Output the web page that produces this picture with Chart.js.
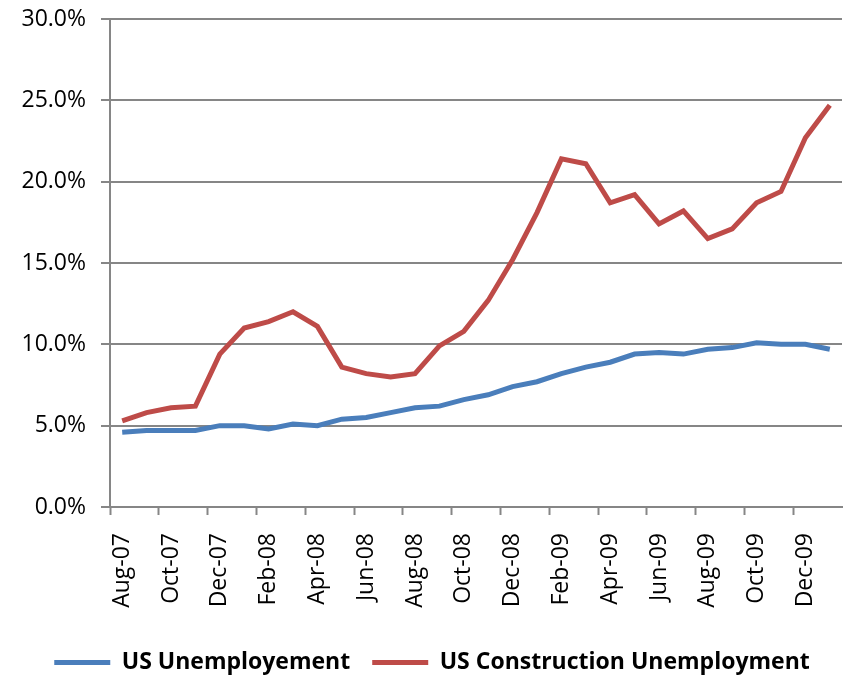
<!DOCTYPE html>
<html>
<head>
<meta charset="utf-8">
<script src="https://cdn.jsdelivr.net/npm/chart.js@4/dist/chart.umd.min.js"></script>
<style>
  html, body { margin: 0; padding: 0; background: #fff; overflow: hidden; }
  #wrap { width: 848px; height: 676px; overflow: hidden; }
</style>
</head>
<body>
<div id="wrap"><canvas id="js-chart" width="848" height="684"></canvas></div>
<script>
const months = [
  "Aug-07", "Sep-07", "Oct-07", "Nov-07", "Dec-07", "Jan-08", "Feb-08", "Mar-08",
  "Apr-08", "May-08", "Jun-08", "Jul-08", "Aug-08", "Sep-08", "Oct-08", "Nov-08",
  "Dec-08", "Jan-09", "Feb-09", "Mar-09", "Apr-09", "May-09", "Jun-09", "Jul-09",
  "Aug-09", "Sep-09", "Oct-09", "Nov-09", "Dec-09", "Jan-10"
];

const usUnemployment = [
  4.6, 4.7, 4.7, 4.7, 5.0, 5.0, 4.8, 5.1, 5.0, 5.4, 5.5, 5.8, 6.1, 6.2, 6.6,
  6.9, 7.4, 7.7, 8.2, 8.6, 8.9, 9.4, 9.5, 9.4, 9.7, 9.8, 10.1, 10.0, 10.0, 9.7
];

const constructionUnemployment = [
  5.3, 5.8, 6.1, 6.2, 9.4, 11.0, 11.4, 12.0, 11.1, 8.6, 8.2, 8.0, 8.2, 9.9, 10.8,
  12.7, 15.2, 18.1, 21.4, 21.1, 18.7, 19.2, 17.4, 18.2, 16.5, 17.1, 18.7, 19.4, 22.7, 24.7
];

const seriesNames = ["US Unemployement", "US Construction Unemployment"];

const AXIS_GRAY = "#868686";
const FONT = "'Open Sans', 'Noto Sans', sans-serif";

function drawChart() {
  const context = document.getElementById("js-chart").getContext("2d");

  const unemploymentChart = new Chart(context, {
    type: "line",
    data: {
      labels: months,
      datasets: [
        {
          label: seriesNames[0],
          data: usUnemployment,
          borderColor: "#4A7EBB",
          backgroundColor: "#4A7EBB",
          borderWidth: 5,
          pointRadius: 0,
          tension: 0,
          fill: false,
        },
        {
          label: seriesNames[1],
          data: constructionUnemployment,
          borderColor: "#BE4B48",
          backgroundColor: "#BE4B48",
          borderWidth: 5,
          pointRadius: 0,
          tension: 0,
          fill: false,
        },
      ],
    },
    options: {
      responsive: false,
      animation: false,
      // left padding only nudges the legend; y axis width below is cut to match
      layout: { padding: { top: 19, right: 6, left: 22, bottom: 0 } },
      plugins: {
        tooltip: { enabled: false },
        legend: {
          position: "bottom",
          labels: {
            color: "#000",
            font: { family: FONT, size: 23, weight: "bold" },
            boxWidth: 56,
            boxHeight: 5,
            padding: 22,
            generateLabels: function (chart) {
              return Chart.defaults.plugins.legend.labels
                .generateLabels(chart)
                .map((item) => ({ ...item, lineWidth: 0 }));
            },
          },
        },
      },
      scales: {
        x: {
          offset: true,
          border: { color: AXIS_GRAY, width: 2 },
          grid: {
            offset: true,
            drawOnChartArea: false,
            tickLength: 8,
            tickWidth: 2,
            tickColor: (ctx) => (ctx.index % 2 === 0 ? AXIS_GRAY : "rgba(0,0,0,0)"),
          },
          ticks: {
            autoSkip: false,
            minRotation: 90,
            maxRotation: 90,
            color: "#000",
            font: { family: FONT, size: 23 },
            padding: 18,
            callback: function (value, index) {
              return index % 2 === 0 ? months[index] : "";
            },
          },
          afterFit: function (scale) {
            scale.height = 122;
            scale.paddingLeft = 0;
            scale.paddingRight = 0;
          },
        },
        y: {
          min: 0,
          max: 30,
          border: { color: AXIS_GRAY, width: 2 },
          grid: {
            color: AXIS_GRAY,
            lineWidth: 2,
            tickLength: 9,
          },
          ticks: {
            stepSize: 5,
            color: "#000",
            font: { family: FONT, size: 23 },
            padding: 15,
            callback: function (value) {
              return value.toFixed(1) + "%";
            },
          },
          afterFit: function (scale) {
            scale.width = 88;
            scale.paddingTop = 0;
            scale.paddingBottom = 0;
          },
        },
      },
    },
  });
}

drawChart();
</script>
</body>
</html>
